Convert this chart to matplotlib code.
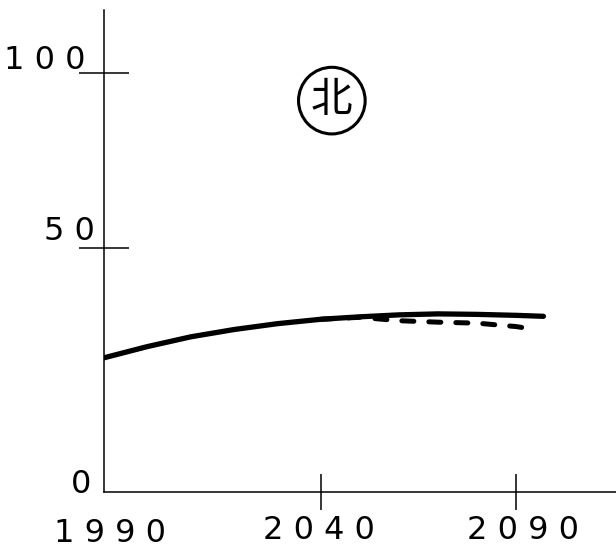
import numpy as np
import matplotlib
matplotlib.use("Agg")
import matplotlib.pyplot as plt
from matplotlib.transforms import ScaledTranslation

# data
years = [1990, 2000, 2010, 2020, 2030, 2040, 2050, 2060, 2070, 2080, 2090, 2097]
solid_vals = [27.5, 29.8, 31.8, 33.3, 34.5, 35.4, 35.9, 36.3, 36.5, 36.4, 36.2, 36.0]
dash_years = [2040, 2050, 2060, 2070, 2080, 2090, 2094]
dash_vals = [35.4, 35.8, 35.1, 34.8, 34.6, 33.9, 33.4]

x_ticks = [1990, 2040, 2090]
x_labels = ["1 9 9 0", "2 0 4 0", "2 0 9 0"]
y_ticks = [0, 50, 100]
y_labels = ["0", "5 0", "1 0 0"]
title_char = "北"

# the hand-drawn axes are not evenly spaced, so use piecewise scales
x_knots = [1900, 1990, 2040, 2090, 2200]
x_pix = [-286.6, 104, 321, 516, 945]
y_knots = [-100, 0, 50, 100, 300]
y_pix = [-488, 0, 244, 419, 1119]


def x_fwd(v):
    return np.interp(v, x_knots, x_pix)


def x_inv(v):
    return np.interp(v, x_pix, x_knots)


def y_fwd(v):
    return np.interp(v, y_knots, y_pix)


def y_inv(v):
    return np.interp(v, y_pix, y_knots)


fig = plt.figure(figsize=(6.16, 5.49), dpi=100)
ax = fig.add_axes([104 / 616, 57 / 549, 512 / 616, 482 / 549])
ax.set_xscale("function", functions=(x_fwd, x_inv))
ax.set_yscale("function", functions=(y_fwd, y_inv))
ax.set_xlim(1990, 2115.6)
ax.set_ylim(0, 118)

ax.plot(dash_years, dash_vals, color="black", lw=3.6,
        linestyle=(0, (2.4, 3.0)), dash_capstyle="round")
ax.plot(years, solid_vals, color="black", lw=3.8, solid_capstyle="round")

for side in ["top", "right"]:
    ax.spines[side].set_visible(False)
for side in ["left", "bottom"]:
    ax.spines[side].set_linewidth(1.1)

ax.tick_params(axis="y", direction="inout", length=36, width=1.1, pad=-18,
               labelsize=23)
ax.tick_params(axis="x", direction="inout", length=26, width=1.1, pad=-13,
               labelsize=23)
ax.set_xticks(x_ticks)
ax.set_xticklabels(x_labels)
ax.set_yticks(y_ticks)
ax.set_yticklabels(y_labels)
ax.minorticks_off()

# no tick marks at the corner
ax.yaxis.get_major_ticks()[0].tick1line.set_visible(False)
ax.xaxis.get_major_ticks()[0].tick1line.set_visible(False)

# nudge labels the way they sit in the drawing (pixels)
y_off = [(-13, 11), (-9, 20), (-19, 16)]
x_off = [(6, -26), (-2, -23), (7, -23)]
for lbl, (dx, dy) in zip(ax.get_yticklabels(), y_off):
    lbl.set_transform(lbl.get_transform() + ScaledTranslation(dx / 100, dy / 100, fig.dpi_scale_trans))
for lbl, (dx, dy) in zip(ax.get_xticklabels(), x_off):
    lbl.set_transform(lbl.get_transform() + ScaledTranslation(dx / 100, dy / 100, fig.dpi_scale_trans))

ax.text(0.445, 0.812, title_char, transform=ax.transAxes, fontsize=30,
        family=["Noto Sans CJK JP", "DejaVu Sans"], ha="center", va="center",
        bbox=dict(boxstyle="circle,pad=0.3", fc="white", ec="black", lw=2.2))

fig.savefig("out.png", dpi=100)
